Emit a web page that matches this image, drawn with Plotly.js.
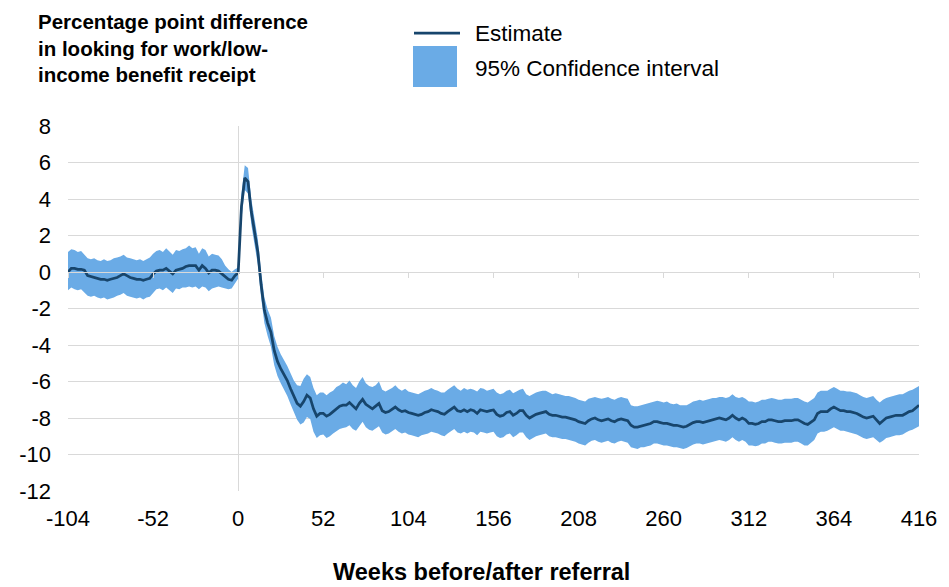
<!DOCTYPE html>
<html>
<head>
<meta charset="utf-8">
<script src="https://cdn.plot.ly/plotly-3.0.1.min.js"></script>
<style>
  html, body { margin: 0; padding: 0; background: #ffffff; }
  #chart { width: 949px; height: 587px; }
</style>
</head>
<body>
<div id="chart"></div>
<script>
// Weeks before/after referral (every second week)
const weeks = [
  -104,-102,-100,-98,-96,-94,-92,-90,-88,-86,-84,-82,-80,
  -78,-76,-74,-72,-70,-68,-66,-64,-62,-60,-58,-56,-54,
  -52,-50,-48,-46,-44,-42,-40,-38,-36,-34,-32,-30,-28,
  -26,-24,-22,-20,-18,-16,-14,-12,-10,-8,-6,-4,-2,
  0,2,4,6,8,10,12,14,16,18,20,22,24,
  26,28,30,32,34,36,38,40,42,44,46,48,50,
  52,54,56,58,60,62,64,66,68,70,72,74,76,
  78,80,82,84,86,88,90,92,94,96,98,100,102,
  104,106,108,110,112,114,116,118,120,122,124,126,128,
  130,132,134,136,138,140,142,144,146,148,150,152,154,
  156,158,160,162,164,166,168,170,172,174,176,178,180,
  182,184,186,188,190,192,194,196,198,200,202,204,206,
  208,210,212,214,216,218,220,222,224,226,228,230,232,
  234,236,238,240,242,244,246,248,250,252,254,256,258,
  260,262,264,266,268,270,272,274,276,278,280,282,284,
  286,288,290,292,294,296,298,300,302,304,306,308,310,
  312,314,316,318,320,322,324,326,328,330,332,334,336,
  338,340,342,344,346,348,350,352,354,356,358,360,362,
  364,366,368,370,372,374,376,378,380,382,384,386,388,
  390,392,394,396,398,400,402,404,406,408,410,412,414,
  416
];

// Estimate (percentage point difference)
const estimate = [
  0.0,0.2,0.2,0.15,0.15,0.1,-0.2,-0.25,-0.3,-0.35,-0.4,-0.4,-0.45,
  -0.4,-0.35,-0.3,-0.2,-0.1,-0.2,-0.3,-0.35,-0.4,-0.4,-0.45,-0.4,-0.35,
  -0.1,0.05,0.1,0.1,0.2,0.05,-0.1,0.1,0.15,0.2,0.3,0.35,0.35,
  0.35,0.1,0.35,0.2,-0.05,0.1,0.1,0.05,-0.1,-0.3,-0.4,-0.45,-0.2,
  -0.05,3.6,5.15,4.95,3.3,2.2,1.1,-0.7,-2.1,-2.8,-3.3,-4.3,-4.9,
  -5.3,-5.6,-5.95,-6.4,-6.8,-7.2,-7.35,-7.1,-6.75,-6.9,-7.5,-7.9,-7.75,
  -7.75,-7.9,-7.8,-7.65,-7.5,-7.35,-7.3,-7.3,-7.15,-7.35,-7.5,-7.2,-6.98,
  -7.25,-7.4,-7.5,-7.35,-7.2,-7.6,-7.7,-7.65,-7.5,-7.4,-7.55,-7.65,-7.6,
  -7.7,-7.75,-7.8,-7.85,-7.8,-7.7,-7.65,-7.55,-7.6,-7.65,-7.75,-7.8,-7.65,
  -7.5,-7.4,-7.6,-7.65,-7.55,-7.65,-7.55,-7.6,-7.75,-7.55,-7.6,-7.65,-7.6,
  -7.56,-7.8,-7.9,-7.85,-7.7,-7.65,-7.85,-7.75,-7.6,-7.6,-7.85,-8.0,-7.9,
  -7.8,-7.75,-7.7,-7.65,-7.8,-7.85,-7.85,-7.9,-7.95,-7.95,-8.0,-8.05,-8.1,
  -8.2,-8.25,-8.3,-8.15,-8.05,-8.0,-8.1,-8.15,-8.1,-8.05,-8.15,-8.2,-8.1,
  -8.05,-8.1,-8.15,-8.4,-8.5,-8.5,-8.45,-8.4,-8.35,-8.3,-8.2,-8.2,-8.25,
  -8.3,-8.3,-8.35,-8.4,-8.4,-8.45,-8.5,-8.45,-8.35,-8.25,-8.2,-8.2,-8.25,
  -8.2,-8.15,-8.1,-8.05,-8.0,-8.05,-8.1,-8.0,-7.85,-8.0,-8.1,-8.0,-8.1,
  -8.3,-8.3,-8.35,-8.3,-8.2,-8.2,-8.1,-8.1,-8.15,-8.2,-8.2,-8.15,-8.15,
  -8.15,-8.1,-8.1,-8.2,-8.3,-8.35,-8.2,-8.1,-7.75,-7.65,-7.65,-7.65,-7.5,
  -7.4,-7.5,-7.6,-7.6,-7.65,-7.65,-7.7,-7.75,-7.85,-7.95,-8.0,-7.95,-7.9,
  -8.1,-8.3,-8.15,-8.0,-7.95,-7.9,-7.85,-7.85,-7.85,-7.75,-7.65,-7.6,-7.45,
  -7.3
];

// Upper bound of 95% confidence interval
const ciUpper = [
  1.1,1.25,1.2,1.1,1.15,0.95,0.75,0.7,0.75,0.65,0.6,0.7,0.6,
  0.65,0.75,0.8,0.85,0.95,0.8,0.75,0.7,0.65,0.7,0.6,0.7,0.8,
  1.0,1.15,1.2,1.1,1.3,1.1,0.95,1.2,1.15,1.25,1.3,1.45,1.3,
  1.35,1.0,1.3,1.2,0.85,1.0,0.95,0.9,0.7,0.35,0.15,0.0,0.15,
  0.25,4.3,5.85,5.7,4.0,2.9,1.8,0.0,-1.4,-2.05,-2.5,-3.5,-4.1,
  -4.5,-4.8,-5.15,-5.55,-5.95,-6.2,-6.25,-5.85,-5.6,-5.75,-6.35,-6.75,-6.6,
  -6.6,-6.75,-6.6,-6.5,-6.3,-6.2,-6.05,-6.15,-5.95,-6.2,-6.35,-6.0,-5.75,
  -6.1,-6.25,-6.3,-6.2,-6.0,-6.45,-6.55,-6.45,-6.35,-6.2,-6.4,-6.5,-6.4,
  -6.55,-6.6,-6.65,-6.7,-6.6,-6.5,-6.45,-6.35,-6.45,-6.5,-6.6,-6.6,-6.45,
  -6.3,-6.2,-6.4,-6.5,-6.35,-6.45,-6.4,-6.45,-6.55,-6.35,-6.4,-6.5,-6.45,
  -6.4,-6.6,-6.7,-6.65,-6.5,-6.45,-6.65,-6.55,-6.45,-6.4,-6.7,-6.8,-6.7,
  -6.6,-6.55,-6.5,-6.5,-6.6,-6.7,-6.65,-6.7,-6.75,-6.8,-6.8,-6.85,-6.9,
  -7.0,-7.05,-7.1,-6.95,-6.9,-6.85,-6.9,-6.95,-6.9,-6.85,-6.95,-7.0,-6.9,
  -6.85,-6.9,-6.95,-7.3,-7.35,-7.35,-7.3,-7.25,-7.2,-7.15,-7.1,-7.05,-7.1,
  -7.15,-7.1,-7.2,-7.25,-7.2,-7.3,-7.3,-7.3,-7.2,-7.1,-7.05,-7.0,-7.05,
  -7.0,-6.95,-6.9,-6.9,-6.85,-6.85,-6.9,-6.85,-6.7,-6.85,-6.9,-6.85,-6.95,
  -7.1,-7.1,-7.15,-7.1,-7.0,-7.0,-6.95,-6.9,-6.95,-7.0,-7.0,-6.95,-6.95,
  -6.95,-6.9,-6.9,-7.0,-7.1,-7.15,-7.0,-6.9,-6.6,-6.5,-6.5,-6.5,-6.4,
  -6.3,-6.4,-6.5,-6.5,-6.55,-6.55,-6.6,-6.65,-6.75,-6.85,-6.9,-6.85,-6.8,
  -7.0,-7.15,-7.0,-6.9,-6.85,-6.8,-6.75,-6.7,-6.7,-6.6,-6.5,-6.45,-6.35,
  -6.25
];

// Lower bound of 95% confidence interval
const ciLower = [
  -1.0,-0.85,-0.95,-1.0,-0.95,-1.1,-1.3,-1.35,-1.3,-1.4,-1.45,-1.4,-1.5,
  -1.45,-1.4,-1.3,-1.25,-1.15,-1.3,-1.35,-1.4,-1.45,-1.4,-1.5,-1.4,-1.35,
  -1.15,-0.95,-0.9,-1.0,-0.85,-1.0,-1.15,-0.9,-0.95,-0.85,-0.85,-0.8,-0.85,
  -0.8,-0.95,-0.8,-0.85,-1.05,-0.9,-0.85,-0.8,-0.85,-0.9,-0.95,-0.9,-0.6,
  -0.35,2.9,4.5,4.3,2.6,1.5,0.4,-1.4,-2.8,-3.5,-4.1,-5.1,-5.7,
  -6.1,-6.45,-6.8,-7.25,-7.65,-8.1,-8.35,-8.25,-7.95,-8.05,-8.75,-9.1,-8.95,
  -8.9,-9.1,-9.0,-8.85,-8.7,-8.6,-8.55,-8.5,-8.4,-8.6,-8.7,-8.45,-8.2,
  -8.5,-8.65,-8.7,-8.55,-8.45,-8.8,-8.9,-8.85,-8.7,-8.6,-8.75,-8.85,-8.8,
  -8.9,-8.95,-9.0,-9.05,-8.95,-8.9,-8.85,-8.75,-8.8,-8.85,-8.95,-9.0,-8.85,
  -8.7,-8.6,-8.8,-8.85,-8.75,-8.85,-8.75,-8.8,-8.95,-8.75,-8.8,-8.85,-8.8,
  -8.75,-9.0,-9.1,-9.05,-8.9,-8.85,-9.05,-8.95,-8.8,-8.8,-9.05,-9.2,-9.1,
  -9.0,-8.95,-8.9,-8.85,-9.0,-9.05,-9.05,-9.1,-9.15,-9.15,-9.2,-9.25,-9.3,
  -9.4,-9.45,-9.5,-9.35,-9.25,-9.2,-9.3,-9.35,-9.3,-9.25,-9.35,-9.4,-9.3,
  -9.25,-9.3,-9.35,-9.6,-9.65,-9.7,-9.6,-9.6,-9.55,-9.5,-9.4,-9.4,-9.45,
  -9.5,-9.5,-9.55,-9.6,-9.6,-9.65,-9.7,-9.65,-9.55,-9.45,-9.4,-9.4,-9.45,
  -9.4,-9.35,-9.3,-9.25,-9.2,-9.25,-9.3,-9.2,-9.05,-9.2,-9.3,-9.2,-9.3,
  -9.5,-9.5,-9.55,-9.5,-9.4,-9.4,-9.3,-9.3,-9.35,-9.4,-9.4,-9.35,-9.35,
  -9.35,-9.3,-9.3,-9.4,-9.5,-9.5,-9.35,-9.2,-8.85,-8.75,-8.75,-8.7,-8.6,
  -8.5,-8.6,-8.7,-8.7,-8.75,-8.8,-8.85,-8.9,-9.0,-9.1,-9.15,-9.1,-9.05,
  -9.2,-9.35,-9.25,-9.1,-9.05,-9.0,-8.95,-8.95,-8.9,-8.8,-8.7,-8.65,-8.55,
  -8.45
];

const xTickVals = [-104, -52, 0, 52, 104, 156, 208, 260, 312, 364, 416];
const yTickVals = [-12, -10, -8, -6, -4, -2, 0, 2, 4, 6, 8];

const titleText = 'Percentage point difference<br>in looking for work/low-<br>income benefit receipt';
const xTitleText = 'Weeks before/after referral';
const legendLineLabel = 'Estimate';
const legendBandLabel = '95% Confidence interval';

const FONT = 'Liberation Sans, Arial, Helvetica, sans-serif';
const BAND = 'rgb(106,171,230)';
const LINE = 'rgb(23,69,108)';
const GRID = '#d9d9d9';

const traces = [
  { x: weeks, y: ciLower, type: 'scatter', mode: 'lines', line: { width: 0, color: BAND },
    hoverinfo: 'skip', showlegend: false, name: 'lower' },
  { x: weeks, y: ciUpper, type: 'scatter', mode: 'lines', line: { width: 0, color: BAND },
    fill: 'tonexty', fillcolor: BAND, showlegend: false, name: legendBandLabel },
  { x: weeks, y: estimate, type: 'scatter', mode: 'lines', line: { width: 2.75, color: LINE },
    showlegend: false, name: legendLineLabel },
  { x: [], y: [], type: 'scatter', mode: 'lines', xaxis: 'x2', yaxis: 'y', showlegend: false, hoverinfo: 'skip' }
];

const L = 68, R = 30, T = 126, B = 96;
const W = 949, H = 587;
const pw = W - L - R, ph = H - T - B;
const px = v => (v - L) / pw;
const py = v => (H - B - v) / ph;

const layout = {
  width: W, height: H,
  margin: { l: L, r: R, t: T, b: B },
  paper_bgcolor: '#ffffff', plot_bgcolor: '#ffffff',
  font: { family: FONT, color: '#000000', size: 22 },
  showlegend: false,
  title: {
    text: titleText,
    font: { family: FONT, size: 20.5, weight: 'bold', color: '#000000' },
    xref: 'container', yref: 'container',
    x: 38 / W, xanchor: 'left',
    y: 1 - 29 / H, yanchor: 'top'
  },
  xaxis: {
    range: [-104, 416], tickvals: xTickVals, ticktext: xTickVals.map(String),
    showgrid: false, showline: false, ticks: '',
    zeroline: true, zerolinecolor: GRID, zerolinewidth: 1,
    tickfont: { family: FONT, size: 22, color: '#000000' },
    ticklabelstandoff: 12,
    fixedrange: true
  },
  xaxis2: {
    overlaying: 'x', anchor: 'free', position: 0.6, side: 'bottom',
    range: [-104, 416], tickvals: xTickVals,
    showgrid: false, zeroline: false, showline: true, linecolor: GRID, linewidth: 1,
    ticks: 'outside', ticklen: 5, tickcolor: GRID, tickwidth: 1,
    showticklabels: false, layer: 'above traces', fixedrange: true
  },
  yaxis: {
    range: [-12, 8], tickvals: yTickVals, ticktext: yTickVals.map(String),
    showgrid: true, gridcolor: GRID, gridwidth: 1,
    zeroline: false, showline: false, ticks: '',
    tickfont: { family: FONT, size: 22, color: '#000000' },
    ticklabelstandoff: 16,
    fixedrange: true
  },
  shapes: [
    { type: 'line', xref: 'paper', yref: 'paper', x0: px(414), x1: px(460), y0: py(33), y1: py(33),
      line: { color: LINE, width: 2.75 } },
    { type: 'rect', xref: 'paper', yref: 'paper', x0: px(413), x1: px(457), y0: py(87), y1: py(46),
      fillcolor: BAND, line: { width: 0 } }
  ],
  annotations: [
    { xref: 'paper', yref: 'paper', x: px(473), y: py(34), xanchor: 'left', yanchor: 'middle',
      text: legendLineLabel, showarrow: false, font: { family: FONT, size: 22.5, color: '#000000' } },
    { xref: 'paper', yref: 'paper', x: px(473), y: py(68), xanchor: 'left', yanchor: 'middle',
      text: legendBandLabel, showarrow: false, font: { family: FONT, size: 22.5, color: '#000000' } },
    { xref: 'paper', yref: 'paper', x: px(481), y: py(572), xanchor: 'center', yanchor: 'middle',
      text: xTitleText, showarrow: false, font: { family: FONT, size: 23.5, weight: 'bold', color: '#000000' } }
  ]
};

Plotly.newPlot('chart', traces, layout, { displayModeBar: false, staticPlot: true });
</script>
</body>
</html>
